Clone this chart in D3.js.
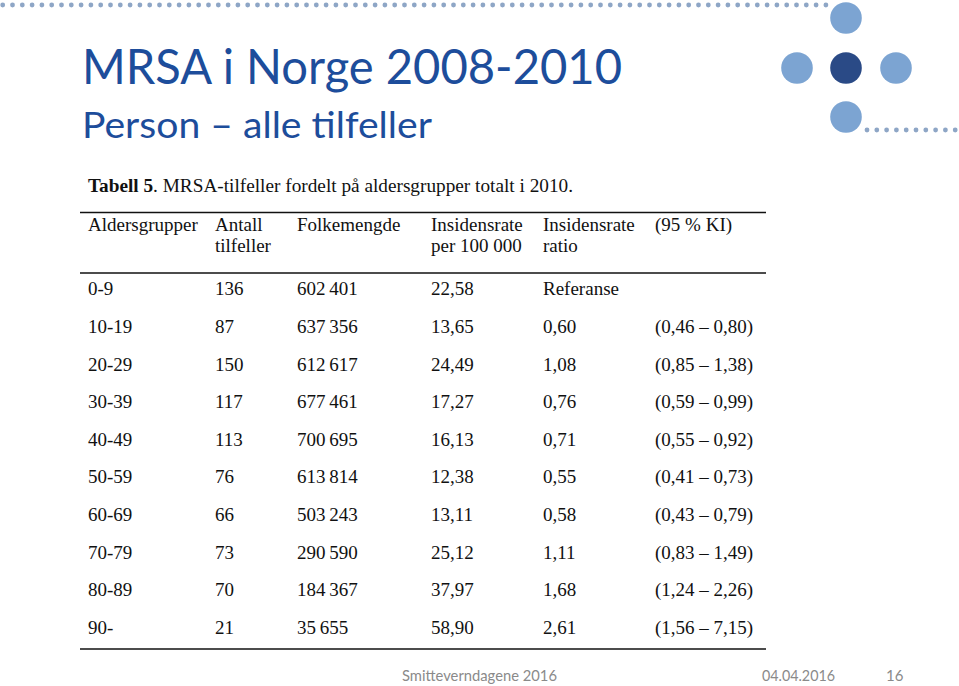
<!DOCTYPE html>
<html>
<head>
<meta charset="utf-8">
<script src="https://cdn.jsdelivr.net/npm/d3@7"></script>
<style>
  body { margin: 0; background: #fff; }
  svg { display: block; }
</style>
</head>
<body>
<svg id="slide" width="959" height="686"></svg>
<script>
// Table data (Tabell 5, MRSA 2010)
const ageGroups = ["0-9", "10-19", "20-29", "30-39", "40-49", "50-59", "60-69", "70-79", "80-89", "90-"];
const cases = [136, 87, 150, 117, 113, 76, 66, 73, 70, 21];
const population = [602401, 637356, 612617, 677461, 700695, 613814, 503243, 290590, 184367, 35655];
const incidence = [22.58, 13.65, 24.49, 17.27, 16.13, 12.38, 13.11, 25.12, 37.97, 58.90];
const ratio = [null, 0.60, 1.08, 0.76, 0.71, 0.55, 0.58, 1.11, 1.68, 2.61];
const ciLow = [null, 0.46, 0.85, 0.59, 0.55, 0.41, 0.43, 0.83, 1.24, 1.56];
const ciHigh = [null, 0.80, 1.38, 0.99, 0.92, 0.73, 0.79, 1.49, 2.26, 7.15];

const columns = ["age", "cases", "pop", "inc", "ratio", "ci"];
const headers = [
  ["Aldersgrupper"],
  ["Antall", "tilfeller"],
  ["Folkemengde"],
  ["Insidensrate", "per 100 000"],
  ["Insidensrate", "ratio"],
  ["(95 % KI)"]
];

const svg = d3.select("#slide");
const locale = d3.formatLocale({ decimal: ",", thousands: "\u2009", grouping: [3], currency: ["", ""] });
const fmtInt = locale.format(",d");
const fmt2 = locale.format(".2f");

// Decorative dotted line and circles
const dotColor = "#8ea6c6";
svg.append("g").selectAll("circle")
  .data(d3.range(0, 85))
  .join("circle")
  .attr("cx", i => 2.7 + i * 9.8)
  .attr("cy", 5)
  .attr("r", 2.4)
  .attr("fill", dotColor);

svg.append("g").selectAll("circle")
  .data(d3.range(0, 10))
  .join("circle")
  .attr("cx", i => 867 + i * 9.8)
  .attr("cy", 130)
  .attr("r", 2.4)
  .attr("fill", dotColor);

const bubbles = [
  { x: 846, y: 18, dark: false },
  { x: 797, y: 68, dark: false },
  { x: 846, y: 68, dark: true },
  { x: 896, y: 68, dark: false },
  { x: 846, y: 117, dark: false }
];
svg.append("g").selectAll("circle")
  .data(bubbles)
  .join("circle")
  .attr("cx", d => d.x)
  .attr("cy", d => d.y)
  .attr("r", 15.8)
  .attr("fill", d => d.dark ? "#2a4a86" : "#7ca4d2");

// Title
svg.append("text")
  .attr("x", 82).attr("y", 84)
  .attr("font-family", "Lato, 'Open Sans', sans-serif")
  .attr("font-size", 48)
  .attr("fill", "#1d4d9b")
  .attr("textLength", 540).attr("lengthAdjust", "spacingAndGlyphs")
  .text("MRSA i Norge 2008-2010");

svg.append("text")
  .attr("x", 82).attr("y", 138)
  .attr("font-family", "Lato, 'Open Sans', sans-serif")
  .attr("font-size", 36)
  .attr("fill", "#1d4d9b")
  .attr("textLength", 350).attr("lengthAdjust", "spacingAndGlyphs")
  .text("Person \u2013 alle tilfeller");

// Table
const serif = "'Liberation Serif', 'Times New Roman', serif";
const table = svg.append("g").attr("font-family", serif).attr("fill", "#111");

const caption = table.append("text")
  .attr("x", 88).attr("y", 191.5)
  .attr("font-size", 18.5)
  .attr("textLength", 485).attr("lengthAdjust", "spacingAndGlyphs");
caption.append("tspan").attr("font-weight", "bold").text("Tabell 5");
caption.append("tspan").text(". MRSA-tilfeller  fordelt på aldersgrupper totalt i 2010.");

const x = d3.scaleOrdinal().domain(columns).range([88, 215, 297, 431, 543, 655]);
const y = d3.scaleBand().domain(ageGroups).range([270, 646]);

const rule = (yy) => table.append("line")
  .attr("x1", 80).attr("x2", 766)
  .attr("y1", yy).attr("y2", yy)
  .attr("stroke", "#111").attr("stroke-width", 1.6);
rule(212.5);
rule(273);
rule(649);

// Header cells
headers.forEach((lines, c) => {
  lines.forEach((t, j) => {
    table.append("text")
      .attr("x", x(columns[c]))
      .attr("y", 231 + j * 21)
      .attr("font-size", 19)
      .text(t);
  });
});

const rows = ageGroups.map((a, i) => ({
  age: a,
  cases: String(cases[i]),
  pop: fmtInt(population[i]),
  inc: fmt2(incidence[i]),
  ratio: ratio[i] == null ? "Referanse" : fmt2(ratio[i]),
  ci: ciLow[i] == null ? "" : "(" + fmt2(ciLow[i]) + " \u2013 " + fmt2(ciHigh[i]) + ")"
}));

table.append("g").selectAll("g")
  .data(rows)
  .join("g")
  .attr("transform", d => `translate(0,${y(d.age) + y.bandwidth() / 2 + 6.5})`)
  .selectAll("text")
  .data(d => columns.map(c => ({ c, v: d[c] })))
  .join("text")
  .attr("x", d => x(d.c))
  .attr("font-size", 19)
  .text(d => d.v);

// Footer
const foot = svg.append("g")
  .attr("font-family", "Lato, 'Open Sans', sans-serif")
  .attr("font-size", 15)
  .attr("fill", "#8a8a8a");
foot.append("text").attr("x", 402).attr("y", 681)
  .attr("textLength", 155).attr("lengthAdjust", "spacingAndGlyphs")
  .text("Smitteverndagene 2016");
foot.append("text").attr("x", 762).attr("y", 681)
  .attr("textLength", 73).attr("lengthAdjust", "spacingAndGlyphs")
  .text("04.04.2016");
foot.append("text").attr("x", 886).attr("y", 681)
  .text("16");
</script>
</body>
</html>
